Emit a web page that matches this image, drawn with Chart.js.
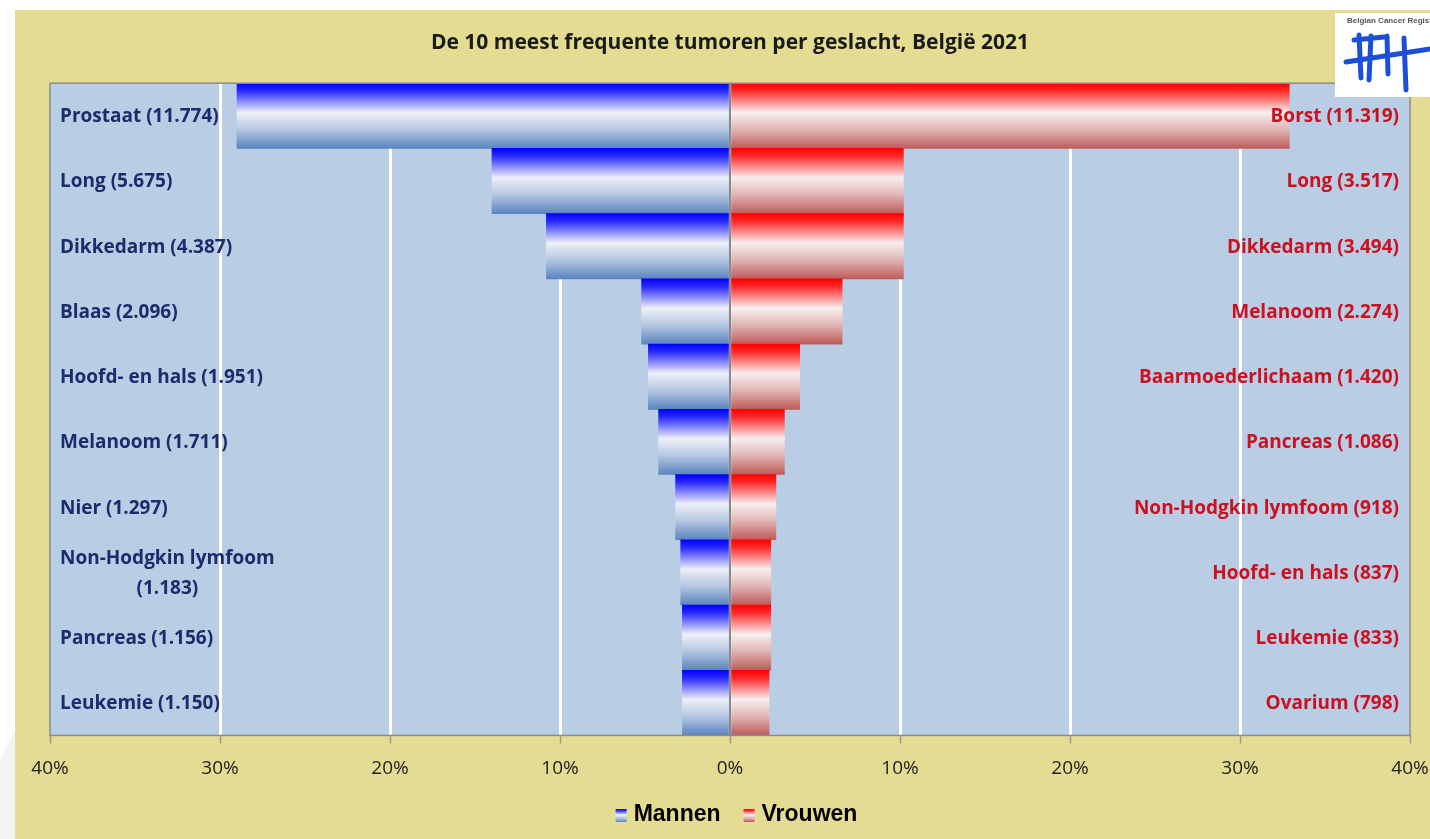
<!DOCTYPE html>
<html>
<head>
<meta charset="utf-8">
<script src="https://cdn.jsdelivr.net/npm/chart.js@4.4.1/dist/chart.umd.min.js"></script>
<style>
  html, body { margin: 0; padding: 0; background: #ffffff; }
  #wrap { width: 1430px; height: 839px; position: relative; }
</style>
</head>
<body>
<div id="wrap"><canvas id="c" width="1430" height="839"></canvas></div>
<script>
// ---- data ----
const ranks = ['1', '2', '3', '4', '5', '6', '7', '8', '9', '10'];
const maleLabels = ['Prostaat (11.774)', 'Long (5.675)', 'Dikkedarm (4.387)', 'Blaas (2.096)',
  'Hoofd- en hals (1.951)', 'Melanoom (1.711)', 'Nier (1.297)', ['Non-Hodgkin lymfoom', '(1.183)'],
  'Pancreas (1.156)', 'Leukemie (1.150)'];
const femaleLabels = ['Borst (11.319)', 'Long (3.517)', 'Dikkedarm (3.494)', 'Melanoom (2.274)',
  'Baarmoederlichaam (1.420)', 'Pancreas (1.086)', 'Non-Hodgkin lymfoom (918)', 'Hoofd- en hals (837)',
  'Leukemie (833)', 'Ovarium (798)'];
const malePct = [29.0, 14.0, 10.8, 5.2, 4.8, 4.2, 3.2, 2.9, 2.8, 2.8];
const femalePct = [32.9, 10.2, 10.2, 6.6, 4.1, 3.2, 2.7, 2.4, 2.4, 2.3];
const seriesNames = ['Mannen', 'Vrouwen'];
const titleText = 'De 10 meest frequente tumoren per geslacht, België 2021';
const logoText = 'Belgian Cancer Registry';

// ---- styles ----
const blueStops = [[0, '#0000ff'], [0.12, '#2a2aff'], [0.45, '#eef0f8'], [0.7, '#b7c8e2'], [1, '#5a84c0']];
const redStops = [[0, '#ff0000'], [0.12, '#ff2a2a'], [0.45, '#f8eef0'], [0.7, '#e2b7b7'], [1, '#c05a5a']];
const labelFont = 'bold 19px "Open Sans"';

function barGradient(ctx, stops) {
  const chart = ctx.chart;
  const area = chart.chartArea;
  const ys = chart.scales && chart.scales.y;
  if (!area || !ys) return stops[0][1];
  const band = (area.bottom - area.top) / ranks.length;
  const c = ys.getPixelForValue(ctx.dataIndex);
  const g = chart.ctx.createLinearGradient(0, c - band / 2, 0, c + band / 2);
  stops.forEach(s => g.addColorStop(s[0], s[1]));
  return g;
}

const bgPlugin = {
  id: 'bg',
  beforeDraw(chart) {
    const ctx = chart.ctx, a = chart.chartArea;
    ctx.save();
    ctx.fillStyle = '#ffffff';
    ctx.fillRect(0, 0, chart.width, chart.height);
    ctx.fillStyle = '#f3f3f3';
    ctx.beginPath();
    ctx.moveTo(0, 760); ctx.lineTo(15, 730); ctx.lineTo(15, 839); ctx.lineTo(0, 839); ctx.closePath();
    ctx.fill();
    ctx.fillStyle = '#e4dc92';
    ctx.fillRect(15, 10, chart.width - 15, chart.height - 10);
    ctx.fillStyle = '#b9cde5';
    ctx.fillRect(a.left, a.top, a.right - a.left, a.bottom - a.top);
    ctx.restore();
  },
  afterDatasetsDraw(chart) {
    const ctx = chart.ctx, a = chart.chartArea;
    const xs = chart.scales.x, ys = chart.scales.y;
    ctx.save();
    // zero line
    const x0 = xs.getPixelForValue(0);
    ctx.strokeStyle = '#8a8a8a';
    ctx.lineWidth = 2;
    ctx.beginPath(); ctx.moveTo(x0, a.top); ctx.lineTo(x0, a.bottom); ctx.stroke();
    // border
    ctx.strokeStyle = '#8c8c8c';
    ctx.lineWidth = 1.5;
    ctx.strokeRect(a.left, a.top, a.right - a.left, a.bottom - a.top);
    // category labels
    ctx.font = labelFont;
    ctx.textBaseline = 'middle';
    for (let i = 0; i < ranks.length; i++) {
      const y = ys.getPixelForValue(i);
      const ml = maleLabels[i];
      ctx.fillStyle = '#1c2b6b';
      if (Array.isArray(ml)) {
        const w0 = ctx.measureText(ml[0]).width;
        const cx = a.left + 10 + w0 / 2;
        ctx.textAlign = 'center';
        ctx.fillText(ml[0], cx, y - 14);
        ctx.fillText(ml[1], cx, y + 16);
      } else {
        ctx.textAlign = 'left';
        ctx.fillText(ml, a.left + 10, y + 1);
      }
      ctx.fillStyle = '#cc1020';
      ctx.textAlign = 'right';
      ctx.fillText(femaleLabels[i], a.right - 11, y + 1);
    }
    ctx.restore();
  },
  afterDraw(chart) {
    const ctx = chart.ctx;
    // legend boxes with gradients
    const lg = chart.legend;
    if (lg && lg.legendHitBoxes) {
      lg.legendHitBoxes.forEach((hb, i) => {
        const bw = 11, bh = 13;
        const bx = hb.left + 13, by = hb.top + (hb.height - bh) / 2 + 1;
        const g = ctx.createLinearGradient(0, by, 0, by + bh);
        (i === 0 ? blueStops : redStops).forEach(s => g.addColorStop(s[0], s[1]));
        ctx.fillStyle = g;
        ctx.fillRect(bx, by, bw, bh);
      });
    }
    // logo
    ctx.save();
    ctx.fillStyle = '#ffffff';
    ctx.fillRect(1335, 13, 95, 84);
    ctx.fillStyle = '#555555';
    ctx.font = 'bold 8px "Liberation Sans Narrow", "Liberation Sans"';
    ctx.textAlign = 'left';
    ctx.textBaseline = 'middle';
    ctx.fillText(logoText, 1347, 21);
    ctx.strokeStyle = '#1a4fd6';
    ctx.lineCap = 'round';
    ctx.lineWidth = 5;
    ctx.beginPath();
    ctx.moveTo(1346, 62); ctx.lineTo(1430, 49);
    ctx.moveTo(1354, 40); ctx.lineTo(1384, 37);
    ctx.moveTo(1359, 35); ctx.lineTo(1361, 78);
    ctx.moveTo(1371, 36); ctx.lineTo(1369, 80);
    ctx.moveTo(1387, 36); ctx.lineTo(1388, 74);
    ctx.moveTo(1404, 38); ctx.lineTo(1406, 90);
    ctx.stroke();
    ctx.restore();
  }
};

new Chart(document.getElementById('c'), {
  type: 'bar',
  data: {
    labels: ranks,
    datasets: [
      {
        label: seriesNames[0],
        data: malePct.map(v => -v),
        backgroundColor: ctx => barGradient(ctx, blueStops),
        borderWidth: 0,
        barPercentage: 1,
        categoryPercentage: 1
      },
      {
        label: seriesNames[1],
        data: femalePct,
        backgroundColor: ctx => barGradient(ctx, redStops),
        borderWidth: 0,
        barPercentage: 1,
        categoryPercentage: 1
      }
    ]
  },
  options: {
    indexAxis: 'y',
    responsive: false,
    animation: false,
    layout: { padding: { left: 50, right: 20, top: 10, bottom: 3 } },
    scales: {
      x: {
        stacked: true,
        min: -40,
        max: 40,
        afterFit: s => { s.paddingLeft = 0; s.paddingRight = 0; },
        ticks: {
          stepSize: 10,
          callback: v => Math.abs(v) + '%',
          font: { family: 'Open Sans', size: 19, lineHeight: 1.03 },
          color: '#222222',
          padding: 15,
          maxRotation: 0
        },
        grid: {
          color: ctx => (ctx.tick && (ctx.tick.value === -40 || ctx.tick.value === 40)) ? 'rgba(0,0,0,0)' : '#ffffff',
          lineWidth: 3,
          tickColor: '#9a9a9a',
          tickWidth: 1.5,
          tickLength: 8,
          drawTicks: true
        },
        border: { display: false }
      },
      y: {
        stacked: true,
        display: false
      }
    },
    plugins: {
      title: {
        display: true,
        text: titleText,
        font: { family: 'Open Sans', size: 21, weight: 'bold' },
        color: '#1a1a1a',
        padding: { top: 20, bottom: 28 }
      },
      legend: {
        display: true,
        position: 'bottom',
        labels: {
          font: { family: 'Liberation Sans', size: 23, weight: 'bold' },
          color: '#111111',
          boxWidth: 19.5,
          boxHeight: 13,
          padding: 10,
          generateLabels: chart => seriesNames.map((n, i) => ({
            text: n,
            fillStyle: 'rgba(0,0,0,0)',
            strokeStyle: 'rgba(0,0,0,0)',
            lineWidth: 0,
            datasetIndex: i,
            hidden: false
          }))
        }
      },
      tooltip: { enabled: false }
    }
  },
  plugins: [bgPlugin]
});
</script>
</body>
</html>
